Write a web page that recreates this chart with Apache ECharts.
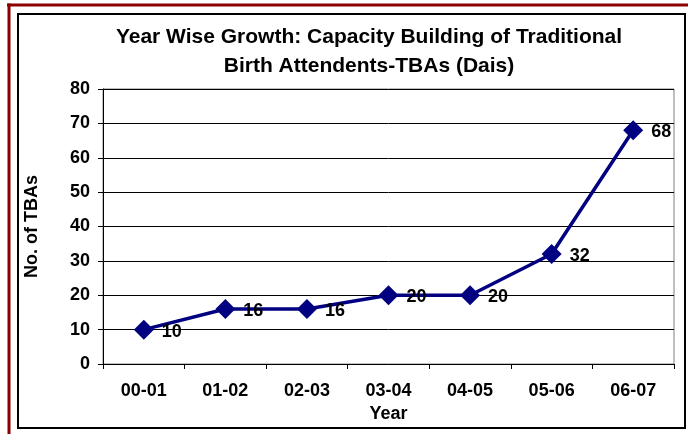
<!DOCTYPE html>
<html><head><meta charset="utf-8">
<script src="https://cdn.jsdelivr.net/npm/echarts@6/dist/echarts.min.js"></script>
<style>html,body{margin:0;padding:0;background:#fff}#c{width:688px;height:434px}</style>
</head><body><div id="c"></div>
<script>
const categories = ['00-01','01-02','02-03','03-04','04-05','05-06','06-07'];
const values = [10,16,16,20,20,32,68];
const yTicks = {min:0, max:80, interval:10};
const titleLines = ['Year Wise Growth: Capacity Building of Traditional','Birth Attendents-TBAs (Dais)'];

const FONT = '"Liberation Sans", Arial, sans-serif';
const chart = echarts.init(document.getElementById('c'), null, {renderer:'canvas'});
chart.setOption({
  animation:false,
  backgroundColor:'#fff',
  title:{
    text: titleLines.join('\n'),
    left: 364, top: 18, textAlign:'center',
    textStyle:{fontFamily:FONT, fontSize:21, fontWeight:'bold', color:'#000', lineHeight:29}
  },
  graphic:[
    {type:'line', shape:{x1:7, y1:5, x2:688, y2:5}, style:{stroke:'#8B0000', lineWidth:3}},
    {type:'line', shape:{x1:9, y1:3.5, x2:9, y2:434}, style:{stroke:'#8B0000', lineWidth:3}},
    {type:'rect', shape:{x:18, y:14, width:667, height:414}, style:{fill:null, stroke:'#000', lineWidth:2}}
  ],
  grid:{left:103, top:89, right:14, bottom:70, show:true, borderColor:'#808080', borderWidth:1},
  xAxis:{
    type:'category', data:categories, boundaryGap:true,
    name:'Year', nameLocation:'middle', nameGap:34,
    nameTextStyle:{fontFamily:FONT, fontSize:18, fontWeight:'bold', color:'#000'},
    axisLine:{lineStyle:{color:'#000', width:1}},
    axisTick:{show:true, length:5, lineStyle:{color:'#000'}},
    axisLabel:{fontFamily:FONT, fontSize:18, fontWeight:'bold', color:'#000', margin:18}
  },
  yAxis:{
    type:'value', min:yTicks.min, max:yTicks.max, interval:yTicks.interval,
    name:'No. of TBAs', nameLocation:'middle', nameGap:62, nameRotate:90,
    nameTextStyle:{fontFamily:FONT, fontSize:18, fontWeight:'bold', color:'#000'},
    axisLine:{show:true, lineStyle:{color:'#000', width:1}},
    axisTick:{show:true, length:5, lineStyle:{color:'#000'}},
    axisLabel:{fontFamily:FONT, fontSize:18, fontWeight:'bold', color:'#000', margin:13},
    splitLine:{show:true, lineStyle:{color:'#000', width:1}}
  },
  series:[{
    type:'line', data:values,
    lineStyle:{color:'#000080', width:3.5},
    itemStyle:{color:'#000080'},
    symbol:'diamond', symbolSize:[20,20],
    label:{show:true, position:'right', distance:8, offset:[0,2],
      fontFamily:FONT, fontSize:18, fontWeight:'bold', color:'#000'}
  }]
});
</script></body></html>
